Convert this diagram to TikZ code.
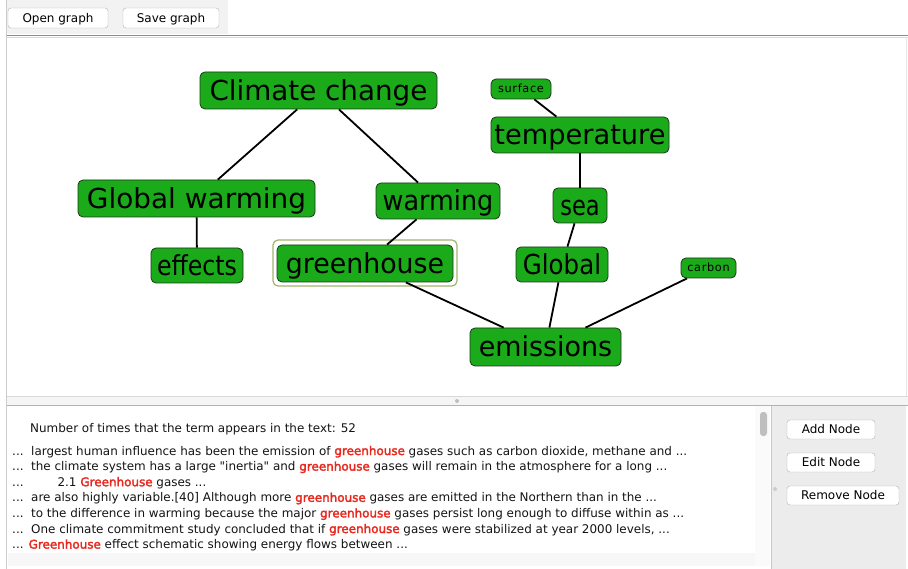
\documentclass[tikz,border=0pt]{standalone}
\usepackage{graphicx}
\usepackage{fontspec}
\setmainfont{DejaVu Sans}
\newfontfamily\hlfont[FakeBold=2.5]{DejaVu Sans}
\newfontfamily\smallnodefont[LetterSpace=6]{DejaVu Sans}
\definecolor{ggreen}{RGB}{26,170,26}
\definecolor{gborder}{RGB}{30,55,30}
\definecolor{hred}{RGB}{232,40,30}
\definecolor{hlframe}{RGB}{160,180,110}
\definecolor{uigray}{RGB}{236,236,236}
\definecolor{linegray}{RGB}{140,140,140}
\definecolor{txtgray}{RGB}{20,20,20}
\newcommand\hlw[1]{{\color{hred}\hlfont #1}}
\newcommand\sx[2]{\scalebox{#1}[1]{#2}}
\newcommand\straightq{{\XeTeXglyph\XeTeXglyphindex "quotedbl"\relax}}
\tikzset{
  gnode/.style={draw=gborder, fill=ggreen, rounded corners=5pt, inner sep=0pt,
    line width=0.8pt, text=black, text depth=0pt},
  big/.style={font=\fontsize{27.5}{27.5}\selectfont, text height=20pt},
  small/.style={font=\smallnodefont\fontsize{11.3}{11.3}\selectfont, text height=6.3pt},
  edge/.style={line width=1.8pt, black},
  btn/.style={draw=black!30, fill=white, rounded corners=3pt, inner sep=0pt,
    font=\fontsize{12}{12}\selectfont, text=black, text height=8.8pt, text depth=0pt},
  txt/.style={anchor=base west, inner sep=0pt, font=\fontsize{11.95}{11.95}\selectfont, text=txtgray}
}
\begin{document}
\begin{tikzpicture}[x=1pt,y=-1pt]
\useasboundingbox (0,0) rectangle (908,569);
\fill[white] (0,0) rectangle (908,569);
% toolbar
\fill[black!5] (7,0) rectangle (228,34);
\draw[linegray, line width=1.5pt] (6,35.5) -- (908,35.5);
\draw[black!15, line width=0.6pt] (6,37.5) -- (908,37.5);
\draw[black!20, line width=0.8pt] (6,0) -- (6,569);
\draw[black!10, line width=0.6pt] (906.5,37) -- (906.5,396);
\node[btn, minimum width=100pt, minimum height=20pt] (open) at (58,18) {Open graph};
\node[btn, minimum width=96pt, minimum height=20pt] (save) at (171,18) {Save graph};
% splitter
\fill[black!4] (6.5,396) rectangle (908,405);
\draw[black!15, line width=0.6pt] (6.5,396.5) -- (908,396.5);
\draw[black!30, line width=0.8pt] (6.5,405) -- (908,405);
\fill[black!25] (457,401) circle (2pt);
% text panel
\fill[black!3] (8,553) rectangle (755,566);
\fill[black!2] (755,406) rectangle (770,566);
\fill[black!25, rounded corners=3pt] (760,412) rectangle (767,436);
% right panel
\fill[uigray] (771,405.5) rectangle (906,569);
\draw[black!22, line width=0.8pt] (771,405.5) -- (771,569);
\fill[black!20] (775,489) circle (2pt);
\node[btn, minimum width=88pt, minimum height=19pt] (add) at (831,429.5) {Add Node};
\node[btn, minimum width=88pt, minimum height=19pt] (edit) at (831,462.5) {Edit Node};
\node[btn, minimum width=112pt, minimum height=19pt] (remove) at (843,495.5) {Remove Node};
% text lines
\node[txt] (count) at (30,432) {Number of times that the term appears in the text: 52};
\node[txt] (l1) at (12,455) {...\ \ largest human influence has been the emission of \hlw{greenhouse} gases such as carbon dioxide, methane and ...};
\node[txt] (l2) at (12,470.6) {...\ \ the climate system has a large \straightq inertia\straightq{} and \hlw{greenhouse} gases will remain in the atmosphere for a long ...};
\node[txt] (l3) at (12,486.2) {...\hspace{34pt}2.1 \hlw{Greenhouse} gases ...};
\node[txt] (l4) at (12,501.8) {...\ \ are also highly variable.[40] Although more \hlw{greenhouse} gases are emitted in the Northern than in the ...};
\node[txt] (l5) at (12,517.4) {...\ \ to the difference in warming because the major \hlw{greenhouse} gases persist long enough to diffuse within as ...};
\node[txt] (l6) at (12,533) {...\ \ One climate commitment study concluded that if \hlw{greenhouse} gases were stabilized at year 2000 levels, ...};
\node[txt] (l7) at (12,548.6) {... \hlw{Greenhouse} effect schematic showing energy flows between ...};
% highlight frame
\draw[hlframe, line width=1.2pt, fill=white, rounded corners=5pt] (273,240) rectangle (457,286);
% graph nodes
\node[gnode, big, minimum width=237pt, minimum height=37pt] (cc) at (318.5,90.5) {\sx{1.01}{Climate change}};
\node[gnode, big, minimum width=237pt, minimum height=37pt] (gw) at (196.5,198.5) {\sx{1.015}{Global warming}};
\node[gnode, big, minimum width=124pt, minimum height=36pt] (wa) at (438,201) {\sx{0.925}{warming}};
\node[gnode, big, minimum width=92pt, minimum height=35pt] (ef) at (197,265.5) {\sx{0.86}{effects}};
\node[gnode, big, minimum width=176pt, minimum height=37pt] (gh) at (365,263.5) {\sx{0.975}{greenhouse}};
\node[gnode, small, minimum width=60pt, minimum height=20pt] (su) at (521,89) {surface};
\node[gnode, big, minimum width=178pt, minimum height=36pt] (te) at (580,135) {\sx{0.99}{temperature}};
\node[gnode, big, minimum width=54pt, minimum height=35pt] (se) at (580,205.5) {\sx{0.82}{sea}};
\node[gnode, big, minimum width=92pt, minimum height=35pt] (gl) at (562,264.5) {\sx{0.89}{Global}};
\node[gnode, small, minimum width=55pt, minimum height=20pt] (ca) at (708.5,268) {carbon};
\node[gnode, big, minimum width=151pt, minimum height=38pt] (em) at (545.5,347) {\sx{0.98}{emissions}};
% edges
\draw[edge] (cc) -- (gw);
\draw[edge] (cc) -- (wa);
\draw[edge] (gw) -- (ef);
\draw[edge] (wa) -- (gh);
\draw[edge] (gh) -- (em);
\draw[edge] (su) -- (te);
\draw[edge] (te) -- (se);
\draw[edge] (se) -- (gl);
\draw[edge] (gl) -- (em);
\draw[edge] (ca) -- (em);
\end{tikzpicture}
\end{document}
